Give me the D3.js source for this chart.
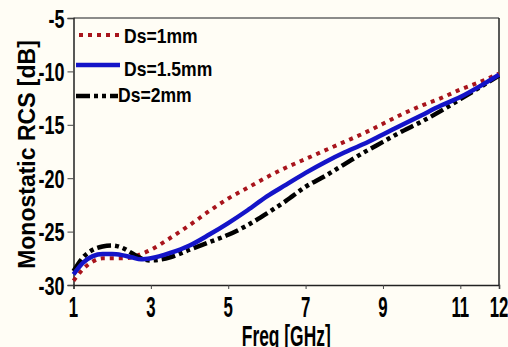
<!DOCTYPE html>
<html>
<head>
<meta charset="utf-8">
<script src="https://cdn.jsdelivr.net/npm/d3@7"></script>
<style>
  html, body { margin: 0; padding: 0; background: #fffdf5; }
  svg { display: block; }
  text { font-family: "Liberation Sans", Arial, sans-serif; font-weight: bold; fill: #000; }
</style>
</head>
<body>
<div class="viz"></div>
<script>
// Frequency samples (GHz)
const freq = [1, 1.25, 1.5, 1.75, 2, 2.25, 2.5, 2.75, 3, 3.5, 4, 4.5, 5, 5.5, 6, 6.5, 7, 7.5, 8, 8.5, 9, 9.5, 10, 10.5, 11, 11.5, 12];

// Monostatic RCS (dB)
const rcsDs1 = [-29.6, -28.5, -27.8, -27.5, -27.5, -27.5, -27.4, -27.1, -26.7, -25.6, -24.4, -23.1, -21.9, -20.9, -19.9, -19.0, -18.2, -17.4, -16.6, -15.8, -14.9, -14.0, -13.2, -12.5, -11.7, -11.0, -10.2];
const rcsDs15 = [-29.0, -27.9, -27.3, -27.1, -27.1, -27.2, -27.4, -27.6, -27.5, -27.0, -26.3, -25.3, -24.2, -23.0, -21.7, -20.6, -19.5, -18.5, -17.6, -16.8, -15.9, -15.0, -14.1, -13.2, -12.4, -11.4, -10.3];
const rcsDs2 = [-28.7, -27.4, -26.7, -26.4, -26.3, -26.5, -27.0, -27.5, -27.7, -27.4, -26.7, -26.0, -25.3, -24.4, -23.3, -22.1, -20.8, -19.8, -18.7, -17.6, -16.6, -15.6, -14.7, -13.7, -12.6, -11.5, -10.4];

const seriesNames = ["Ds=1mm", "Ds=1.5mm", "Ds=2mm"];
const xTicks = [1, 3, 5, 7, 9, 11, 12];
const yTicks = [-30, -25, -20, -15, -10, -5];

// Line styles per series (legend order)
const ds1 = { name: seriesNames[0], values: rcsDs1, color: "#a8141c", width: 4, dash: "4,5" };
const ds15 = { name: seriesNames[1], values: rcsDs15, color: "#1414c8", width: 4.5, dash: null };
const ds2 = { name: seriesNames[2], values: rcsDs2, color: "#000000", width: 4.5, dash: "14,4,4,4,4,4" };

const totalWidth = 508;
const totalHeight = 347;
const margin = { top: 18, right: 9, bottom: 62, left: 73.5 };
const width = totalWidth - margin.left - margin.right;
const height = totalHeight - margin.top - margin.bottom;

const svg = d3
  .select(".viz")
  .append("svg")
  .attr("width", totalWidth)
  .attr("height", totalHeight);

svg.append("rect")
  .attr("width", totalWidth)
  .attr("height", totalHeight)
  .attr("fill", "#fffdf5");

const g = svg
  .append("g")
  .attr("transform", `translate(${margin.left},${margin.top})`);

// Scales
const xScale = d3.scaleLinear().domain([1, 12]).range([0, width]);
const yScale = d3.scaleLinear().domain([-30, -5]).range([height, 0]);

// Condensed text: scale horizontally around the anchor point
function squeezed(parent, x, y, sx, size, anchor, label) {
  return parent
    .append("text")
    .attr("transform", `translate(${x},${y}) scale(${sx},1)`)
    .attr("text-anchor", anchor)
    .style("font-size", size + "px")
    .text(label);
}

// Frame (top and right)
g.append("line")
  .attr("x1", 0).attr("x2", width)
  .attr("y1", 0).attr("y2", 0)
  .attr("stroke", "#666")
  .attr("stroke-width", 1.5);

g.append("line")
  .attr("x1", width).attr("x2", width)
  .attr("y1", 0).attr("y2", height)
  .attr("stroke", "#222")
  .attr("stroke-width", 1.5);

// Axes
const xAxis = g.append("g")
  .attr("transform", `translate(0,${height})`)
  .call(d3.axisBottom(xScale).tickValues(xTicks).tickSize(4).tickFormat(""));

const yAxis = g.append("g")
  .call(d3.axisLeft(yScale).tickValues(yTicks).tickSize(6).tickFormat(""));

[xAxis, yAxis].forEach((ax) => {
  ax.select(".domain").attr("stroke", "#222").attr("stroke-width", 1.5);
  ax.selectAll(".tick line").attr("stroke", "#444").attr("stroke-width", 1);
});

// Tick labels
xTicks.forEach((t) => {
  squeezed(g, xScale(t), height + 32, 0.58, 29, "middle", t);
});

yTicks.forEach((t) => {
  squeezed(g, -9, yScale(t) + 9.5, 0.68, 26.5, "end", t);
});

// Axis titles
squeezed(svg, margin.left + width / 2, 346, 0.6, 29, "middle", "Freq [GHz]");

svg.append("text")
  .attr("transform", `translate(35,${margin.top + height / 2 + 3}) rotate(-90)`)
  .attr("text-anchor", "middle")
  .style("font-size", "23px")
  .text("Monostatic RCS [dB]");

// Curves (blue drawn last, on top)
const line = d3
  .line()
  .x((d, i) => xScale(freq[i]))
  .y((d) => yScale(d))
  .curve(d3.curveMonotoneX);

g.selectAll(".curve")
  .data([ds1, ds2, ds15])
  .enter()
  .append("path")
  .attr("class", "curve")
  .attr("d", (d) => line(d.values))
  .attr("fill", "none")
  .attr("stroke", (d) => d.color)
  .attr("stroke-width", (d) => d.width)
  .attr("stroke-dasharray", (d) => d.dash);

// Legend (page pixel positions)
const legendItems = [
  { s: ds1, y: 35, x1: 79, x2: 123, tx: 124, ty: 43 },
  { s: ds15, y: 65, x1: 76, x2: 120, tx: 124, ty: 76 },
  { s: ds2, y: 96, x1: 76, x2: 118, tx: 118, ty: 102 },
];

const legend = svg.append("g").attr("class", "legend");

legendItems.forEach((d) => {
  legend.append("line")
    .attr("x1", d.x1).attr("x2", d.x2)
    .attr("y1", d.y).attr("y2", d.y)
    .attr("stroke", d.s.color)
    .attr("stroke-width", d.s.width)
    .attr("stroke-dasharray", d.s.dash);
  squeezed(legend, d.tx, d.ty, 0.9, 19.5, "start", d.s.name);
});
</script>
</body>
</html>
